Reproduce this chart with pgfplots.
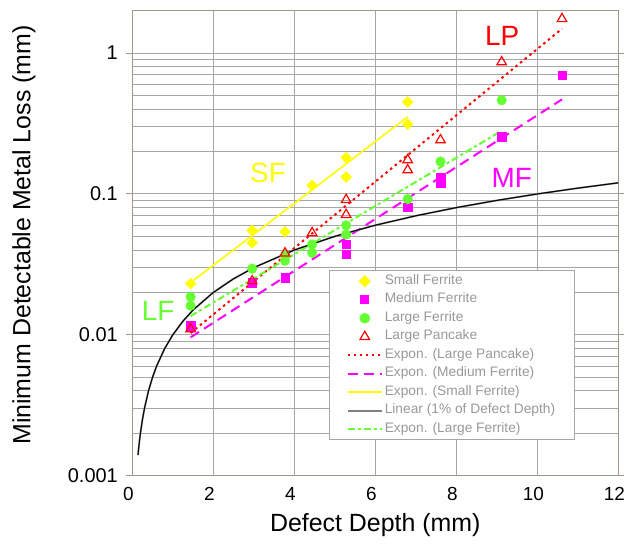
\documentclass[border=0pt]{standalone}
\usepackage{fontspec}
\setmainfont{Liberation Sans}
\usepackage{pgfplots}
\pgfplotsset{compat=1.18}
\definecolor{sfy}{HTML}{FFFF00}
\definecolor{mfm}{HTML}{FF00FF}
\definecolor{lfg}{HTML}{66FF33}
\definecolor{lpr}{HTML}{FF0000}
\definecolor{gridgray}{HTML}{A6A6A6}
\definecolor{axisbrown}{HTML}{A0968C}
\definecolor{legtext}{HTML}{999999}
\definecolor{lingray}{HTML}{808080}
\begin{document}
\begin{tikzpicture}
\path[use as bounding box] (-132.3bp,-69.3bp) rectangle (493.7bp,475.7bp);
\begin{axis}[
 at={(0,0)}, anchor=south west,
 scale only axis, width=486bp, height=465bp,
 ymode=log, xmin=0, xmax=12, ymin=0.001, ymax=2,
 xtick={0,2,4,6,8,10,12}, xticklabels={0,2,4,6,8,10,12},
 ytick={0.001,0.01,0.1,1}, yticklabels={0.001,0.01,0.1,1},
 minor ytick={0.002,0.003,0.004,0.005,0.006,0.007,0.008,0.009,0.02,0.03,0.04,0.05,0.06,0.07,0.08,0.09,0.2,0.3,0.4,0.5,0.6,0.7,0.8,0.9},
 xmajorgrids, ymajorgrids, yminorgrids,
 grid style={gridgray, line width=1bp},
 minor grid style={gridgray, line width=1bp},
 axis line style={axisbrown, line width=1.5bp},
 tick align=outside, major tick length=6bp, minor tick length=0bp,
 xtick style={draw=none}, ytick style={axisbrown, line width=1bp},
 yticklabel style={font=\fontsize{20}{22}\selectfont, xshift=-5bp},
 xticklabel style={font=\fontsize{19}{21}\selectfont, yshift=-2bp, xshift=-4bp},
 xlabel={Defect Depth (mm)},
 ylabel={Minimum Detectable Metal Loss (mm)},
 label style={font=\fontsize{25}{28}\selectfont},
 xlabel style={at={(axis description cs:0.5,0)}, anchor=north, yshift=-34bp},
 ylabel style={at={(axis description cs:-0.2228,0.5176)}, anchor=center, rotate=0},
 legend style={at={(axis description cs:0.4053,0.4424)}, anchor=north west,
   draw=gridgray, line width=1bp, fill=white, text=legtext,
   font=\fontsize{13.8}{15}\selectfont, inner xsep=17bp, inner ysep=1.5bp, row sep=0bp,
   nodes={inner xsep=2bp, inner ysep=2.5bp, text height=10bp, text depth=3.5bp}},
 legend cell align=left,
 legend image code/.code={\draw[mark repeat=2,mark phase=2] plot coordinates {(0bp,0bp) (17bp,0bp) (34bp,0bp)};},
]
% Small Ferrite
\addplot[only marks, mark=square*, mark size=3.8bp, mark options={rotate=45, draw=sfy, fill=sfy}] table {
x y
1.44 0.0231
2.96 0.0552
2.96 0.045
3.77 0.054
4.44 0.115
5.28 0.181
5.28 0.132
6.80 0.450
6.80 0.313
};
\addlegendentry{Small Ferrite}
% Medium Ferrite
\addplot[only marks, mark=square*, mark size=4.2bp, mark options={draw=mfm, fill=mfm}] table {
x y
1.44 0.0116
2.96 0.0235
3.77 0.0255
5.28 0.0438
5.28 0.0372
6.80 0.0808
7.61 0.131
7.61 0.119
9.12 0.255
10.61 0.696
};
\addlegendentry{Medium Ferrite}
% Large Ferrite
\addplot[only marks, mark=*, mark size=4.8bp, mark options={draw=lfg, fill=lfg}] table {
x y
1.44 0.0186
1.44 0.0161
2.96 0.0295
3.77 0.0365
3.77 0.0335
4.44 0.0438
4.44 0.0382
5.28 0.0599
5.28 0.0515
6.80 0.092
7.61 0.170
9.12 0.463
};
\addlegendentry{Large Ferrite}
% Large Pancake
\addplot[only marks, mark=triangle, mark size=5.5bp, mark options={draw=lpr, fill=white, line width=1.2bp}] table {
x y
1.44 0.0110
2.96 0.0241
3.77 0.038
4.44 0.0529
5.28 0.091
5.28 0.0713
6.80 0.1745
6.80 0.148
7.61 0.2415
9.12 0.864
10.61 1.75
};
\addlegendentry{Large Pancake}
% Trend lines
\addplot[lpr, line width=2bp, dash pattern=on 2.5bp off 3.5bp] coordinates {(1.44,0.0103) (10.61,1.49)};
\addlegendentry{Expon. (Large Pancake)}
\addplot[mfm, line width=2bp, dash pattern=on 10bp off 6bp] coordinates {(1.44,0.0096) (10.61,0.469)};
\addlegendentry{Expon. (Medium Ferrite)}
\addplot[sfy, line width=1.6bp] coordinates {(1.44,0.0235) (6.80,0.353)};
\addlegendentry{Expon. (Small Ferrite)}
\addplot[lingray, line width=1.8bp] table {
x y
0.14 0.0014
0.17 0.0017
0.2 0.002
0.25 0.0025
0.3 0.003
0.4 0.004
0.5 0.005
0.6 0.006
0.8 0.008
1 0.01
1.25 0.0125
1.5 0.015
2 0.02
2.5 0.025
3 0.03
4 0.04
5 0.05
6 0.06
7 0.07
8 0.08
9 0.09
10 0.1
11 0.11
12 0.12
};
\addlegendentry{Linear (1\% of Defect Depth)}
\addplot[lfg, line width=2bp, dash pattern=on 7bp off 3bp on 3bp off 3bp] coordinates {(1.44,0.0136) (9.12,0.281)};
\addlegendentry{Expon. (Large Ferrite)}
% 1% of defect depth data line
\addplot[black, line width=1bp, forget plot] table {
x y
0.14 0.0014
0.17 0.0017
0.2 0.002
0.25 0.0025
0.3 0.003
0.4 0.004
0.5 0.005
0.6 0.006
0.8 0.008
1 0.01
1.25 0.0125
1.5 0.015
2 0.02
2.5 0.025
3 0.03
4 0.04
5 0.05
6 0.06
7 0.07
8 0.08
9 0.09
10 0.1
11 0.11
12 0.12
};
\node[text=lpr, font=\fontsize{28}{28}\selectfont] at (axis cs:9.13,1.33) {LP};
\node[text=sfy, font=\fontsize{28}{28}\selectfont] at (axis cs:3.35,0.141) {SF};
\node[text=mfm, font=\fontsize{28}{28}\selectfont] at (axis cs:9.37,0.13) {MF};
\node[text=lfg, font=\fontsize{28}{28}\selectfont] at (axis cs:0.64,0.0147) {LF};
\end{axis}
\end{tikzpicture}
\end{document}
